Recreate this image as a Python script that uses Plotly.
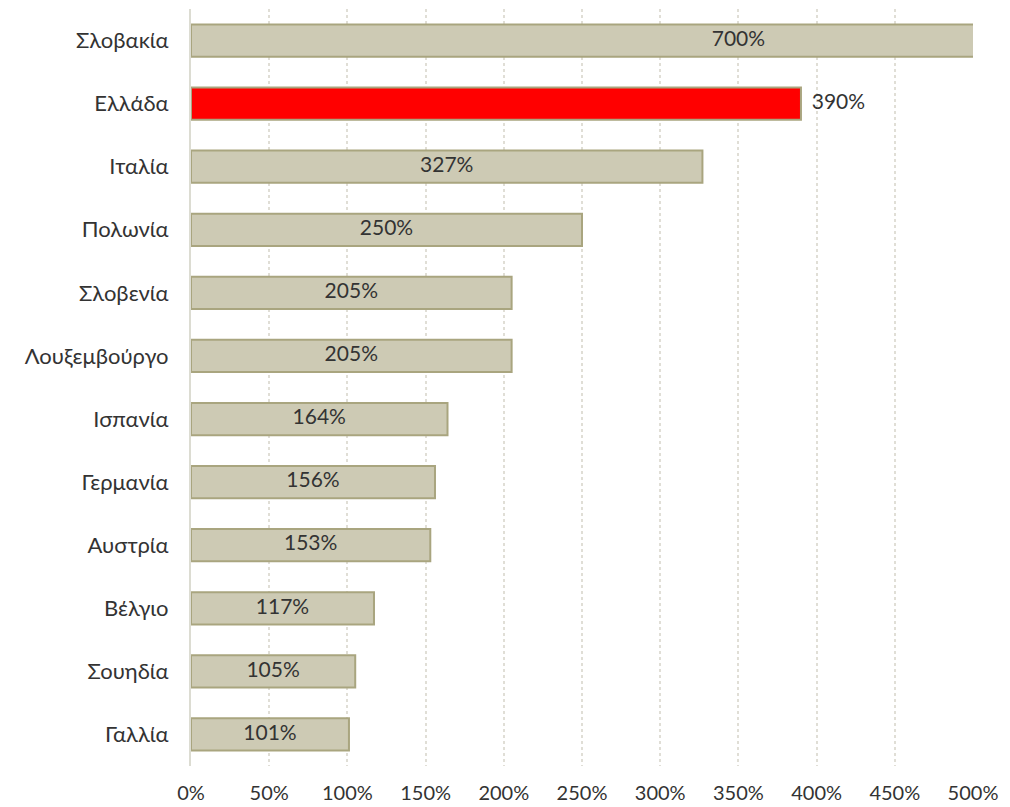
import plotly.graph_objects as go

countries = ["Σλοβακία", "Ελλάδα", "Ιταλία", "Πολωνία", "Σλοβενία", "Λουξεμβούργο",
             "Ισπανία", "Γερμανία", "Αυστρία", "Βέλγιο", "Σουηδία", "Γαλλία"]
values = [700, 390, 327, 250, 205, 205, 164, 156, 153, 117, 105, 101]
highlight = "Ελλάδα"
tick_vals = [0, 50, 100, 150, 200, 250, 300, 350, 400, 450, 500]
tick_text = [f"{v}%" for v in tick_vals]

FONT = "Lato"
TXT = "#333333"
NUM_SIZE = 21
CAT_SIZE = 22
bar_colors = ["#ff0000" if c == highlight else "#cdcab4" for c in countries]

fig = go.Figure()
fig.add_trace(go.Bar(
    y=countries, x=values, orientation="h",
    marker=dict(color=bar_colors, line=dict(color="#a9a57f", width=2)),
    hoverinfo="skip",
))

inside_c = [c for c in countries if c != highlight]
inside_v = [v for c, v in zip(countries, values) if c != highlight]
fig.add_trace(go.Scatter(
    y=inside_c, x=[v / 2 for v in inside_v], mode="text",
    text=[f"{v}%" for v in inside_v], textposition="middle center",
    textfont=dict(family=FONT, size=NUM_SIZE, color=TXT), hoverinfo="skip",
    cliponaxis=False,
))
hv = values[countries.index(highlight)]
fig.add_trace(go.Scatter(
    y=[highlight], x=[hv], mode="text", text=[f"  {hv}%"],
    textposition="middle right",
    textfont=dict(family=FONT, size=NUM_SIZE, color=TXT), hoverinfo="skip",
    cliponaxis=False,
))

fig.update_layout(
    width=1002, height=799,
    margin=dict(l=183, r=37, t=1, b=41),
    plot_bgcolor="white", paper_bgcolor="white",
    showlegend=False, bargap=0.49,
    font=dict(family=FONT, size=NUM_SIZE, color=TXT),
    xaxis=dict(range=[0, 500], tickvals=tick_vals, ticktext=tick_text,
               showgrid=True, gridcolor="#e0ded6", griddash="dot", gridwidth=1.5,
               zeroline=False, showline=False, ticklabelstandoff=13,
               automargin=False,
               tickfont=dict(family=FONT, size=20, color=TXT)),
    yaxis=dict(categoryorder="array", categoryarray=countries[::-1],
               range=[-0.5, len(countries) - 0.5],
               showgrid=False, showline=True, linecolor="#dcdcd2", linewidth=2,
               ticks="", ticklabelstandoff=16, automargin=False,
               tickfont=dict(family=FONT, size=CAT_SIZE, color=TXT)),
)
fig.write_html("out.html")
